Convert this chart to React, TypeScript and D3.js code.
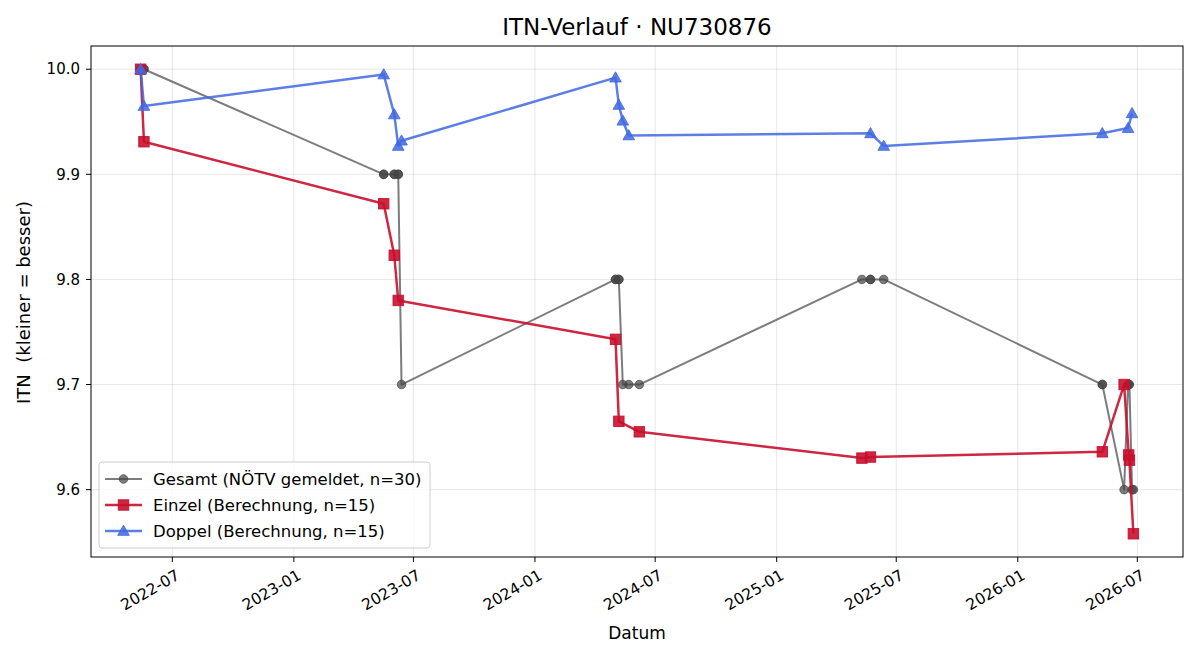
import React from 'react';
import * as d3 from 'd3';

// match dates (Einzel / Doppel) and ITN values
const einzelDates = [
  '2022-05-14', '2022-05-19', '2023-05-17', '2023-06-02', '2023-06-08',
  '2024-05-02', '2024-05-07', '2024-06-07', '2025-05-10', '2025-05-23',
  '2026-05-09', '2026-06-11', '2026-06-18', '2026-06-19', '2026-06-25',
];
const einzelValues = [
  10.0, 9.931, 9.872, 9.823, 9.78,
  9.743, 9.665, 9.655, 9.63, 9.631,
  9.636, 9.7, 9.633, 9.628, 9.558,
];

const doppelDates = [
  '2022-05-14', '2022-05-19', '2023-05-17', '2023-06-02', '2023-06-08',
  '2023-06-13', '2024-05-02', '2024-05-07', '2024-05-13', '2024-05-22',
  '2025-05-23', '2025-06-12', '2026-05-09', '2026-06-17', '2026-06-23',
];
const doppelValues = [
  10.0, 9.965, 9.995, 9.957, 9.927,
  9.932, 9.992, 9.966, 9.951, 9.937,
  9.939, 9.927, 9.939, 9.944, 9.958,
];

// reported overall ITN (NÖTV), one entry per match
const gesamtDates = [
  '2022-05-14', '2022-05-14', '2022-05-19', '2022-05-19',
  '2023-05-17', '2023-05-17', '2023-06-02', '2023-06-02', '2023-06-08', '2023-06-08', '2023-06-13',
  '2024-05-02', '2024-05-02', '2024-05-07', '2024-05-07', '2024-05-13', '2024-05-22', '2024-06-07',
  '2025-05-10', '2025-05-23', '2025-05-23', '2025-06-12',
  '2026-05-09', '2026-05-09', '2026-06-11', '2026-06-17', '2026-06-18', '2026-06-19', '2026-06-23', '2026-06-25',
];
const gesamtValues = [
  10.0, 10.0, 10.0, 10.0,
  9.9, 9.9, 9.9, 9.9, 9.9, 9.9, 9.7,
  9.8, 9.8, 9.8, 9.8, 9.7, 9.7, 9.7,
  9.8, 9.8, 9.8, 9.8,
  9.7, 9.7, 9.6, 9.7, 9.7, 9.7, 9.6, 9.6,
];

const yTicks = [9.6, 9.7, 9.8, 9.9, 10.0];

const parse = d3.timeParse('%Y-%m-%d');
const zip = (dates, values) => dates.map((d, i) => ({ date: parse(d), value: values[i] }));

const gesamt = zip(gesamtDates, gesamtValues);
const einzel = zip(einzelDates, einzelValues);
const doppel = zip(doppelDates, doppelValues);

const FONT = 'DejaVu Sans, sans-serif';

export default function App() {
  const W = 1200;
  const H = 660;
  const margin = { top: 46, right: 17, bottom: 103, left: 91 };
  const w = W - margin.left - margin.right;
  const h = H - margin.top - margin.bottom;

  const all = [...gesamt, ...einzel, ...doppel];
  const [t0, t1] = d3.extent(all, (d) => d.date);
  const tPad = (t1 - t0) * 0.05;
  const [v0, v1] = d3.extent(all, (d) => d.value);
  const vPad = (v1 - v0) * 0.05;

  const x = d3.scaleTime()
    .domain([new Date(+t0 - tPad), new Date(+t1 + tPad)])
    .range([0, w]);
  const y = d3.scaleLinear()
    .domain([v0 - vPad, v1 + vPad])
    .range([h, 0]);

  const xTicks = x.ticks(d3.timeMonth.every(6));
  const fmt = d3.timeFormat('%Y-%m');

  const line = d3.line().x((d) => x(d.date)).y((d) => y(d.value));

  const series = [
    { key: 'gesamt', data: gesamt, color: '#444444', alpha: 0.7, lw: 2, marker: 'circle', label: 'Gesamt (NÖTV gemeldet, n=30)' },
    { key: 'einzel', data: einzel, color: '#c8102e', alpha: 0.9, lw: 2.5, marker: 'square', label: 'Einzel (Berechnung, n=15)' },
    { key: 'doppel', data: doppel, color: '#4169e1', alpha: 0.85, lw: 2.5, marker: 'triangle', label: 'Doppel (Berechnung, n=15)' },
  ];

  const marker = (s, cx, cy, k) => {
    const props = { key: k, fill: s.color, stroke: s.color, strokeWidth: 1, fillOpacity: s.alpha, strokeOpacity: s.alpha };
    if (s.marker === 'circle') return <circle {...props} cx={cx} cy={cy} r={4.3} />;
    if (s.marker === 'square') return <rect {...props} x={cx - 5.2} y={cy - 5.2} width={10.4} height={10.4} />;
    const r = 5.8;
    return <path {...props} d={`M${cx},${cy - r}L${cx + r},${cy + r * 0.75}L${cx - r},${cy + r * 0.75}Z`} />;
  };

  return (
    <svg width={W} height={H} style={{ position: 'absolute', left: 0, top: 0, background: 'white' }} fontFamily={FONT}>
      <text x={margin.left + w / 2} y={35} textAnchor="middle" fontSize={23} fill="#000">ITN-Verlauf · NU730876</text>
      <g transform={`translate(${margin.left},${margin.top})`}>
        {/* grid */}
        {xTicks.map((t) => (
          <line key={'gx' + +t} x1={x(t)} x2={x(t)} y1={0} y2={h} stroke="#b0b0b0" strokeOpacity={0.3} />
        ))}
        {yTicks.map((v) => (
          <line key={'gy' + v} x1={0} x2={w} y1={y(v)} y2={y(v)} stroke="#b0b0b0" strokeOpacity={0.3} />
        ))}

        {/* series */}
        {series.map((s) => (
          <g key={s.key}>
            <path d={line(s.data)} fill="none" stroke={s.color} strokeOpacity={s.alpha} strokeWidth={s.lw} strokeLinejoin="round" />
            {s.data.map((d, i) => marker(s, x(d.date), y(d.value), i))}
          </g>
        ))}

        {/* frame */}
        <rect x={0} y={0} width={w} height={h} fill="none" stroke="#000" strokeWidth={1} />

        {/* x axis */}
        {xTicks.map((t) => (
          <g key={'tx' + +t} transform={`translate(${x(t)},${h})`}>
            <line y1={0} y2={5} stroke="#000" />
            <text transform="translate(3,12) rotate(-30)" textAnchor="end" dy="0.7em" fontSize={15.5} fill="#000">{fmt(t)}</text>
          </g>
        ))}
        <text x={w / 2} y={h + 82} textAnchor="middle" fontSize={17} fill="#000">Datum</text>

        {/* y axis */}
        {yTicks.map((v) => (
          <g key={'ty' + v} transform={`translate(0,${y(v)})`}>
            <line x1={-5} x2={0} stroke="#000" />
            <text x={-11} dy="0.35em" textAnchor="end" fontSize={15} fill="#000">{v.toFixed(1)}</text>
          </g>
        ))}
        <text transform={`translate(${-61},${h / 2 + 1}) rotate(-90)`} textAnchor="middle" fontSize={18} fill="#000" style={{ whiteSpace: 'pre' }}>ITN  (kleiner = besser)</text>

        {/* legend */}
        <g transform={`translate(8,${h - 95})`}>
          <rect x={0} y={0} width={331} height={86} rx={3} fill="#fff" fillOpacity={0.8} stroke="#cccccc" />
          {series.map((s, i) => (
            <g key={'lg' + s.key} transform={`translate(0,${17 + i * 26})`}>
              <line x1={6} x2={43} y1={0} y2={0} stroke={s.color} strokeOpacity={s.alpha} strokeWidth={s.lw} />
              {marker(s, 24.5, 0, 'm')}
              <text x={54} dy="0.35em" fontSize={16.5} fill="#000">{s.label}</text>
            </g>
          ))}
        </g>
      </g>
    </svg>
  );
}
